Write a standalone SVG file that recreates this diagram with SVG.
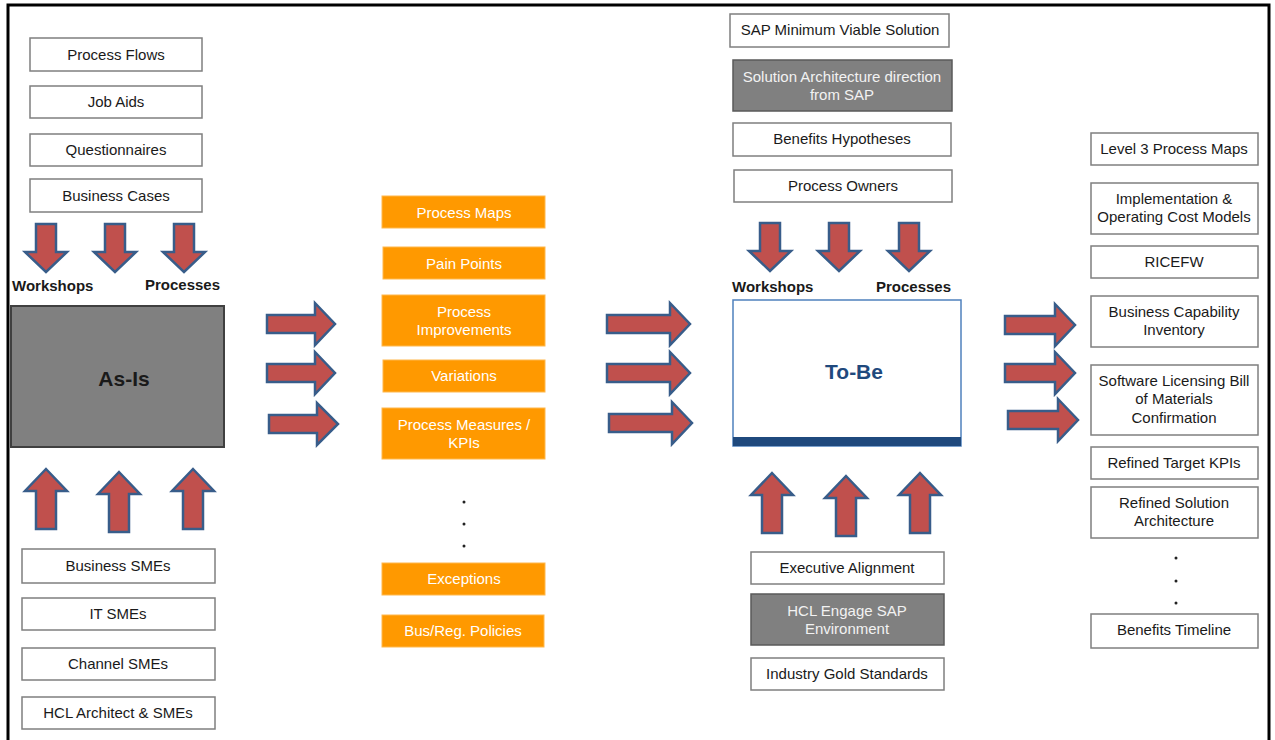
<svg xmlns="http://www.w3.org/2000/svg" width="1275" height="740" viewBox="0 0 1275 740">
<style>
text{font-family:"Liberation Sans",Arial,sans-serif;font-size:15px;fill:#1a1a1a;text-anchor:middle}
.box{fill:#fff;stroke:#7f7f7f;stroke-width:1.5}
.gbox{fill:#808080;stroke:#5a5a5a;stroke-width:1.5}
.gt{fill:#f2f2f2}
.obox{fill:#ff9900;stroke:#ffb84d;stroke-width:1}
.ot{fill:#fff}
.arr{fill:#c0504d;stroke:#385d8a;stroke-width:2.5;stroke-linejoin:miter}
.lbl{font-weight:bold;text-anchor:start}
.dot{fill:#222}
</style>
<defs>
<path id="dn" d="M-10,0 L10,0 L10,28 L21,28 L0,48 L-21,28 L-10,28 Z"/>
<path id="up" d="M0,0 L21,22 L10,22 L10,60 L-10,60 L-10,22 L-21,22 Z"/>
</defs>
<rect x="8" y="5" width="1261" height="750" fill="#fff" stroke="#000" stroke-width="3"/>

<g id="connectors">
<use href="#dn" class="arr" x="46" y="224"/>
<use href="#dn" class="arr" x="115" y="224"/>
<use href="#dn" class="arr" x="184" y="224"/>
<use href="#up" class="arr" x="46" y="469"/>
<use href="#up" class="arr" x="119" y="472"/>
<use href="#up" class="arr" x="193" y="469"/>
<use href="#dn" class="arr" x="770" y="223"/>
<use href="#dn" class="arr" x="839" y="223"/>
<use href="#dn" class="arr" x="909" y="223"/>
<use href="#up" class="arr" x="772" y="473"/>
<use href="#up" class="arr" x="846" y="476"/>
<use href="#up" class="arr" x="920" y="473"/>
<path class="arr" d="M267,315 L315,315 L315,303 L335,324 L315,345 L315,333 L267,333 Z"/>
<path class="arr" d="M267,364 L315,364 L315,352 L335,373 L315,394 L315,382 L267,382 Z"/>
<path class="arr" d="M269,415 L317,415 L317,403 L338,424 L317,445 L317,433 L269,433 Z"/>
<path class="arr" d="M607,315 L670,315 L670,303 L690,324 L670,345 L670,333 L607,333 Z"/>
<path class="arr" d="M607,364 L670,364 L670,352 L690,373 L670,394 L670,382 L607,382 Z"/>
<path class="arr" d="M609,414 L672,414 L672,402 L692,423 L672,444 L672,432 L609,432 Z"/>
<path class="arr" d="M1005,316 L1055,316 L1055,304 L1075,325 L1055,346 L1055,334 L1005,334 Z"/>
<path class="arr" d="M1005,364 L1055,364 L1055,352 L1075,373 L1055,394 L1055,382 L1005,382 Z"/>
<path class="arr" d="M1008,411 L1058,411 L1058,399 L1078,420 L1058,441 L1058,429 L1008,429 Z"/>
</g>

<g id="process-flows"><rect class="box" x="30" y="38" width="172" height="33"/><text x="116" y="60">Process Flows</text></g>
<g id="job-aids"><rect class="box" x="30" y="86" width="172" height="32"/><text x="116" y="107">Job Aids</text></g>
<g id="questionnaires"><rect class="box" x="30" y="134" width="172" height="32"/><text x="116" y="155">Questionnaires</text></g>
<g id="business-cases"><rect class="box" x="30" y="179" width="172" height="33"/><text x="116" y="201">Business Cases</text></g>
<g id="left-labels"><text class="lbl" x="12" y="291">Workshops</text><text class="lbl" x="145" y="290">Processes</text></g>
<g id="as-is"><rect x="11" y="306" width="213" height="141" fill="#808080" stroke="#404040" stroke-width="2"/><text x="124" y="386" style="font-weight:bold;font-size:21px;fill:#1a1a1a">As-Is</text></g>
<g id="business-smes"><rect class="box" x="22" y="549" width="193" height="34"/><text x="118" y="571">Business SMEs</text></g>
<g id="it-smes"><rect class="box" x="22" y="598" width="193" height="32"/><text x="118" y="619">IT SMEs</text></g>
<g id="channel-smes"><rect class="box" x="22" y="648" width="193" height="32"/><text x="118" y="669">Channel SMEs</text></g>
<g id="hcl-architect"><rect class="box" x="22" y="697" width="193" height="32"/><text x="118" y="718">HCL Architect &amp; SMEs</text></g>

<g id="process-maps"><rect class="obox" x="382" y="196" width="163" height="32"/><text class="ot" x="464" y="218">Process Maps</text></g>
<g id="pain-points"><rect class="obox" x="383" y="247" width="162" height="32"/><text class="ot" x="464" y="269">Pain Points</text></g>
<g id="process-improvements"><rect class="obox" x="382" y="295" width="163" height="51"/><text class="ot" x="464" y="317">Process</text><text class="ot" x="464" y="335">Improvements</text></g>
<g id="variations"><rect class="obox" x="383" y="360" width="162" height="32"/><text class="ot" x="464" y="381">Variations</text></g>
<g id="process-measures"><rect class="obox" x="382" y="408" width="163" height="51"/><text class="ot" x="464" y="430">Process Measures /</text><text class="ot" x="464" y="448">KPIs</text></g>
<g id="mid-dots"><circle class="dot" cx="464" cy="502" r="1.5"/><circle class="dot" cx="464" cy="524" r="1.5"/><circle class="dot" cx="464" cy="546" r="1.5"/></g>
<g id="exceptions"><rect class="obox" x="382" y="563" width="163" height="32"/><text class="ot" x="464" y="584">Exceptions</text></g>
<g id="bus-reg-policies"><rect class="obox" x="382" y="615" width="162" height="32"/><text class="ot" x="463" y="636">Bus/Reg. Policies</text></g>

<g id="sap-mvs"><rect class="box" x="730" y="14" width="219" height="33"/><text x="840" y="35">SAP Minimum Viable Solution</text></g>
<g id="solution-architecture"><rect class="gbox" x="733" y="60" width="219" height="51"/><text class="gt" x="842" y="82">Solution Architecture direction</text><text class="gt" x="842" y="100">from SAP</text></g>
<g id="benefits-hypotheses"><rect class="box" x="733" y="123" width="218" height="33"/><text x="842" y="144">Benefits Hypotheses</text></g>
<g id="process-owners"><rect class="box" x="734" y="170" width="218" height="32"/><text x="843" y="191">Process Owners</text></g>
<g id="right-labels"><text class="lbl" x="732" y="292">Workshops</text><text class="lbl" x="876" y="292">Processes</text></g>
<g id="to-be"><rect x="733" y="300" width="228" height="146" fill="#fff" stroke="#4f81bd" stroke-width="1.5"/><rect x="733" y="437" width="228" height="9" fill="#1f497d"/><text x="854" y="379" style="font-weight:bold;font-size:21px;fill:#1f497d">To-Be</text></g>
<g id="executive-alignment"><rect class="box" x="751" y="552" width="193" height="32"/><text x="847" y="573">Executive Alignment</text></g>
<g id="hcl-engage"><rect class="gbox" x="751" y="594" width="193" height="51"/><text class="gt" x="847" y="616">HCL Engage SAP</text><text class="gt" x="847" y="634">Environment</text></g>
<g id="industry-gold"><rect class="box" x="751" y="658" width="193" height="32"/><text x="847" y="679">Industry Gold Standards</text></g>

<g id="level3-maps"><rect class="box" x="1091" y="133" width="167" height="32"/><text x="1174" y="154">Level 3 Process Maps</text></g>
<g id="cost-models"><rect class="box" x="1091" y="183" width="167" height="51"/><text x="1174" y="204">Implementation &amp;</text><text x="1174" y="222">Operating Cost Models</text></g>
<g id="ricefw"><rect class="box" x="1091" y="246" width="167" height="32"/><text x="1174" y="267">RICEFW</text></g>
<g id="capability-inventory"><rect class="box" x="1091" y="296" width="167" height="51"/><text x="1174" y="317">Business Capability</text><text x="1174" y="335">Inventory</text></g>
<g id="software-licensing"><rect class="box" x="1091" y="365" width="167" height="70"/><text x="1174" y="386">Software Licensing Bill</text><text x="1174" y="404">of Materials</text><text x="1174" y="423">Confirmation</text></g>
<g id="target-kpis"><rect class="box" x="1091" y="447" width="167" height="32"/><text x="1174" y="468">Refined Target KPIs</text></g>
<g id="refined-solution"><rect class="box" x="1091" y="487" width="167" height="51"/><text x="1174" y="508">Refined Solution</text><text x="1174" y="526">Architecture</text></g>
<g id="right-dots"><circle class="dot" cx="1176" cy="558" r="1.5"/><circle class="dot" cx="1176" cy="581" r="1.5"/><circle class="dot" cx="1176" cy="603" r="1.5"/></g>
<g id="benefits-timeline"><rect class="box" x="1091" y="614" width="167" height="34"/><text x="1174" y="635">Benefits Timeline</text></g>
</svg>
